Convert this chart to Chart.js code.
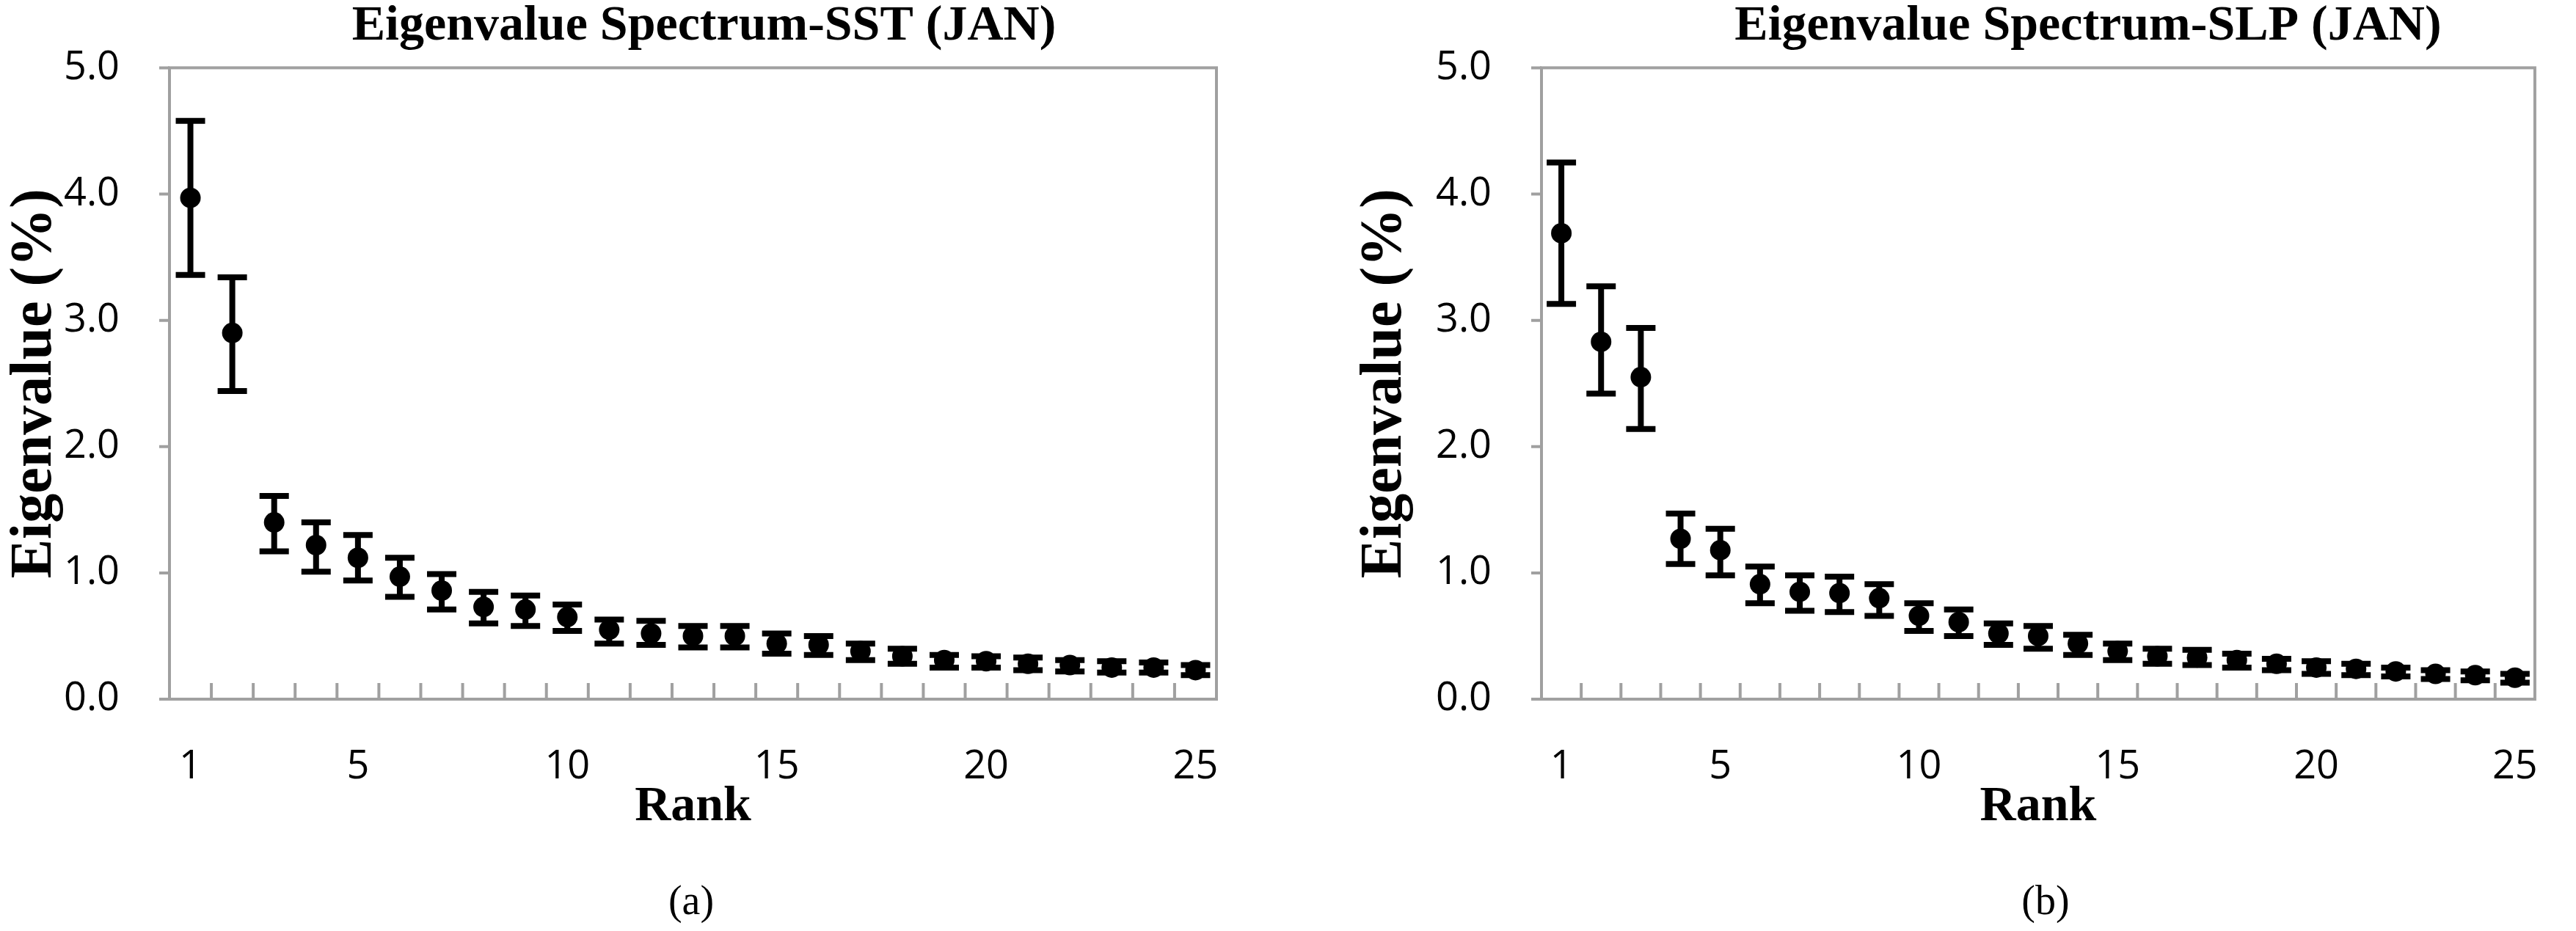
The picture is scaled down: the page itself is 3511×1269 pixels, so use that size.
<!DOCTYPE html>
<html>
<head>
<meta charset="utf-8">
<script src="https://cdn.jsdelivr.net/npm/chart.js@4"></script>
<style>
  body { margin: 0; background: #fff; width: 3511px; height: 1269px; position: relative; overflow: hidden; }
  .panel { position: absolute; top: 0; height: 1269px; }
  .cap { position: absolute; top: 1195px; font: 56px "Liberation Serif", serif; color: #000; transform: translateX(-50%); }
</style>
</head>
<body>
<div class="panel" style="left:0;width:1760px"><canvas id="sst"></canvas></div>
<div class="panel" style="left:1840px;width:1671px"><canvas id="slp"></canvas></div>
<div class="cap" style="left:942px">(a)</div>
<div class="cap" style="left:2788px">(b)</div>
<script>
// Rank 1..25
const ranks = Array.from({ length: 25 }, (_, i) => i + 1);
const rankLabels = [1, 5, 10, 15, 20, 25];
const yTicks = [0, 1, 2, 3, 4, 5];

// SST (JAN)
const sstValue = [3.97, 2.90, 1.40, 1.22, 1.12, 0.97, 0.86, 0.73, 0.71, 0.65, 0.55, 0.52, 0.50, 0.50, 0.44, 0.43, 0.38, 0.34, 0.31, 0.30, 0.28, 0.27, 0.25, 0.25, 0.23];
const sstUpper = [4.58, 3.34, 1.61, 1.40, 1.30, 1.12, 0.99, 0.85, 0.82, 0.75, 0.63, 0.62, 0.58, 0.58, 0.52, 0.50, 0.44, 0.40, 0.35, 0.34, 0.33, 0.31, 0.30, 0.29, 0.27];
const sstLower = [3.36, 2.44, 1.17, 1.01, 0.94, 0.81, 0.71, 0.60, 0.58, 0.54, 0.44, 0.43, 0.41, 0.41, 0.36, 0.35, 0.31, 0.28, 0.25, 0.25, 0.23, 0.22, 0.21, 0.21, 0.19];

// SLP (JAN)
const slpValue = [3.69, 2.83, 2.55, 1.27, 1.18, 0.91, 0.85, 0.84, 0.80, 0.66, 0.61, 0.52, 0.50, 0.44, 0.38, 0.34, 0.33, 0.31, 0.28, 0.25, 0.24, 0.22, 0.20, 0.19, 0.17];
const slpUpper = [4.25, 3.27, 2.94, 1.47, 1.35, 1.05, 0.98, 0.97, 0.91, 0.76, 0.71, 0.60, 0.58, 0.51, 0.44, 0.40, 0.39, 0.36, 0.32, 0.30, 0.28, 0.25, 0.23, 0.22, 0.20];
const slpLower = [3.13, 2.42, 2.14, 1.07, 0.98, 0.76, 0.70, 0.69, 0.66, 0.54, 0.50, 0.43, 0.40, 0.35, 0.31, 0.28, 0.27, 0.25, 0.23, 0.20, 0.19, 0.18, 0.16, 0.15, 0.13];

const tickFont = { family: "'Open Sans', sans-serif", size: 54 };
const serifBold = "bold 68px 'Liberation Serif', serif";

// frame, inner x ticks, error bars, title
const decor = {
  id: "decor",
  beforeDatasetsDraw(chart, args, opts) {
    const { ctx, chartArea: a, scales: { x, y } } = chart;
    ctx.save();
    ctx.strokeStyle = "#a0a0a0";
    ctx.lineWidth = 4;
    ctx.strokeRect(a.left, a.top, a.right - a.left, a.bottom - a.top);
    ctx.beginPath();
    for (let k = 1; k < 25; k++) {
      const px = x.getPixelForValue(k + 0.5);
      ctx.moveTo(px, a.bottom);
      ctx.lineTo(px, a.bottom - 22);
    }
    for (const v of yTicks) {
      const py = y.getPixelForValue(v);
      ctx.moveTo(a.left - 14, py);
      ctx.lineTo(a.left, py);
    }
    ctx.stroke();

    ctx.strokeStyle = "#000";
    ctx.lineWidth = 8;
    ctx.beginPath();
    ranks.forEach((r, i) => {
      const px = x.getPixelForValue(r);
      const hi = y.getPixelForValue(opts.upper[i]);
      const lo = y.getPixelForValue(opts.lower[i]);
      ctx.moveTo(px, hi); ctx.lineTo(px, lo);
      ctx.moveTo(px - 20, hi); ctx.lineTo(px + 20, hi);
      ctx.moveTo(px - 20, lo); ctx.lineTo(px + 20, lo);
    });
    ctx.stroke();

    ctx.fillStyle = "#000";
    ctx.font = serifBold;
    ctx.textAlign = "center";
    ctx.textBaseline = "middle";
    ctx.fillText(opts.title, (a.left + a.right) / 2 + opts.titleShift, 36);
    ctx.restore();
  }
};

function makeChart(id, values, upper, lower, title, yWidth, rightPad, titleShift) {
  return new Chart(document.getElementById(id), {
    type: "scatter",
    data: {
      datasets: [{
        data: ranks.map((r, i) => ({ x: r, y: values[i] })),
        pointRadius: 14,
        pointBackgroundColor: "#000",
        pointBorderWidth: 0,
      }],
    },
    options: {
      animation: false,
      responsive: true,
      maintainAspectRatio: false,
      layout: { padding: { top: 78, right: rightPad, left: 0, bottom: 128 } },
      scales: {
        x: {
          type: "linear",
          min: 0.5,
          max: 25.5,
          afterBuildTicks: (s) => { s.ticks = rankLabels.map((v) => ({ value: v })); },
          afterFit: (s) => { s.height = 188; },
          grid: { display: false },
          border: { display: false },
          ticks: { font: tickFont, color: "#000", padding: 52, maxRotation: 0, callback: (v) => String(v) },
          title: { display: true, text: "Rank", color: "#000", font: { family: "'Liberation Serif', serif", size: 68, weight: "bold" }, padding: 0 },
        },
        y: {
          min: 0,
          max: 5,
          afterBuildTicks: (s) => { s.ticks = yTicks.map((v) => ({ value: v })); },
          afterFit: (s) => { s.width = yWidth; },
          grid: { display: false },
          border: { display: false },
          ticks: { font: tickFont, color: "#000", padding: 60, callback: (v) => v.toFixed(1) },
          title: { display: true, text: "Eigenvalue (%)", color: "#000", font: { family: "'Liberation Serif', serif", size: 80, weight: "bold" }, padding: 0 },
        },
      },
      plugins: {
        legend: { display: false },
        tooltip: { enabled: false },
        decor: { upper, lower, title, titleShift },
      },
    },
    plugins: [decor],
  });
}

makeChart("sst", sstValue, sstUpper, sstLower, "Eigenvalue Spectrum-SST (JAN)", 231, 102, 15);
makeChart("slp", slpValue, slpUpper, slpLower, "Eigenvalue Spectrum-SLP (JAN)", 261, 5, 68);
</script>
</body>
</html>
